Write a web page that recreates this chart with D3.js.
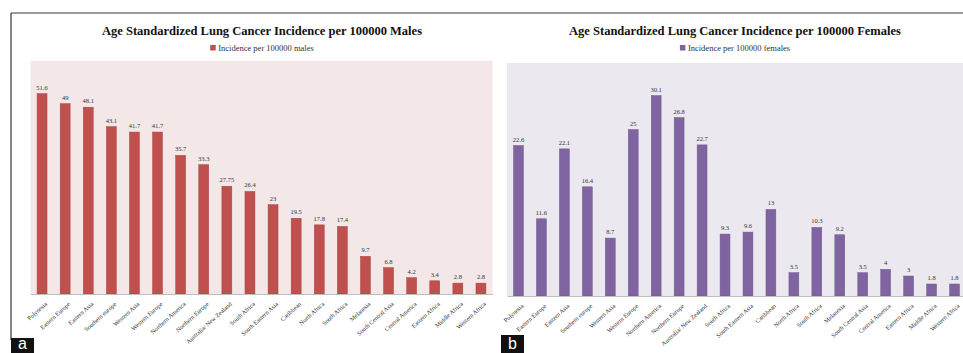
<!DOCTYPE html>
<html>
<head>
    <meta charset="UTF-8">
    <title>Age Standardized Lung Cancer Incidence</title>
    <script type="text/javascript" src="https://d3js.org/d3.v7.min.js"></script>
    <style>
        body { margin: 0; background: #fff; }
        svg { display: block; }
    </style>
</head>
<body>
    <div id="chart"></div>
    <script>
        var regions = ["Polynesia", "Eastern Europe", "Eastern Asia", "Southern europe", "Western Asia",
            "Western Europe", "Northern America", "Northern Europe", "Australia/ New Zealand", "South Africa",
            "South Eastern Asia", "Caribbean", "North Africa", "South Africa", "Melanesia",
            "South Central Asia", "Central America", "Eastern Africa", "Middle Africa", "Western Africa"];
        var maleValues = [51.6, 49, 48.1, 43.1, 41.7, 41.7, 35.7, 33.3, 27.75, 26.4,
            23, 19.5, 17.8, 17.4, 9.7, 6.8, 4.2, 3.4, 2.8, 2.8];
        var femaleValues = [22.6, 11.6, 22.1, 16.4, 8.7, 25, 30.1, 26.8, 22.7, 9.3,
            9.6, 13, 3.5, 10.3, 9.2, 3.5, 4, 3, 1.8, 1.8];

        var width = 963, height = 353;
        var svg = d3.select("#chart").append("svg")
            .attr("width", width).attr("height", height);

        // frame lines
        svg.append("line").attr("x1", 11).attr("x2", width).attr("y1", 13).attr("y2", 13)
            .attr("stroke", "#7a7a7a").attr("stroke-width", 1.5);
        svg.append("line").attr("x1", 11).attr("x2", 11).attr("y1", 13).attr("y2", 340)
            .attr("stroke", "#333").attr("stroke-width", 1.2);

        var panels = [
            {values: maleValues, title: "Age Standardized Lung Cancer Incidence per 100000 Males",
             legend: "Incidence per 100000 males", color: "#c0504d", bg: "#f3e7e7",
             x0: 30.5, x1: 492.5, y0: 61, y1: 294, max: 60, cx: 262, tag: "a", tagX: 11, tagY: 338},
            {values: femaleValues, title: "Age Standardized Lung Cancer Incidence per 100000 Females",
             legend: "Incidence per 100000 females", color: "#8064a2", bg: "#ebe9ef",
             x0: 507, x1: 966, y0: 63, y1: 296, max: 35, cx: 735, tag: "b", tagX: 501, tagY: 335}
        ];

        panels.forEach(function(p) {
            var g = svg.append("g");

            g.append("text")
                .attr("x", p.cx).attr("y", 34.5)
                .attr("text-anchor", "middle")
                .style("font-family", "'Liberation Serif', serif")
                .style("font-weight", "bold")
                .style("font-size", "12.5px")
                .attr("fill", "#111")
                .text(p.title);

            var leg = g.append("g").attr("transform", "translate(" + p.cx + ",51)");
            var legText = leg.append("text")
                .attr("text-anchor", "middle").attr("x", 4)
                .style("font-family", "'Liberation Serif', serif")
                .style("font-size", "8.5px")
                .attr("fill", "#333")
                .text(p.legend);
            var lw = legText.node().getComputedTextLength();
            leg.append("rect")
                .attr("x", 4 - lw / 2 - 8).attr("y", -6)
                .attr("width", 5.5).attr("height", 5.5)
                .attr("fill", p.color);

            g.append("rect")
                .attr("x", p.x0).attr("y", p.y0)
                .attr("width", p.x1 - p.x0).attr("height", p.y1 - p.y0)
                .attr("fill", p.bg);

            var x = d3.scaleBand().domain(d3.range(regions.length))
                .range([p.x0, p.x1]).paddingInner(0.57).paddingOuter(0.285);
            var y = d3.scaleLinear().domain([0, p.max]).range([p.y1, p.y0]);

            g.selectAll(".bar").data(p.values).enter().append("rect")
                .attr("x", function(d, i) { return x(i); })
                .attr("y", function(d) { return y(d); })
                .attr("width", x.bandwidth())
                .attr("height", function(d) { return y(0) - y(d); })
                .attr("fill", p.color)
                .attr("stroke", d3.color(p.color).darker(0.4))
                .attr("stroke-width", 0.5);

            g.selectAll(".val").data(p.values).enter().append("text")
                .attr("x", function(d, i) { return x(i) + x.bandwidth() / 2; })
                .attr("y", function(d) { return y(d) - 4; })
                .attr("text-anchor", "middle")
                .style("font-family", "'Liberation Serif', serif")
                .style("font-size", "6.5px")
                .attr("fill", "#333")
                .text(function(d) { return d; });

            var axis = g.append("g")
                .attr("transform", "translate(0," + p.y1 + ")")
                .call(d3.axisBottom(x).tickSize(0).tickFormat(function(i) { return regions[i]; }));
            axis.select(".domain").attr("stroke", "#bdbdbd").attr("stroke-width", 1.2);
            axis.selectAll("text")
                .style("font-family", "'Liberation Serif', serif")
                .style("font-size", "6.2px")
                .attr("fill", "#333")
                .attr("text-anchor", "end")
                .attr("y", 0).attr("dy", "0.35em")
                .attr("transform", "translate(4,9) rotate(-42)");

            var tagH = height - p.tagY;
            var tag = svg.append("g").attr("transform", "translate(" + p.tagX + "," + p.tagY + ")");
            tag.append("rect").attr("width", 23).attr("height", tagH).attr("fill", "#111");
            tag.append("text").attr("x", 11.5).attr("y", tagH - 4)
                .attr("text-anchor", "middle")
                .style("font-family", "'Liberation Sans', Arial, sans-serif")
                .style("font-size", "16px")
                .attr("fill", "#fff")
                .text(p.tag);
        });
    </script>
</body>
</html>
